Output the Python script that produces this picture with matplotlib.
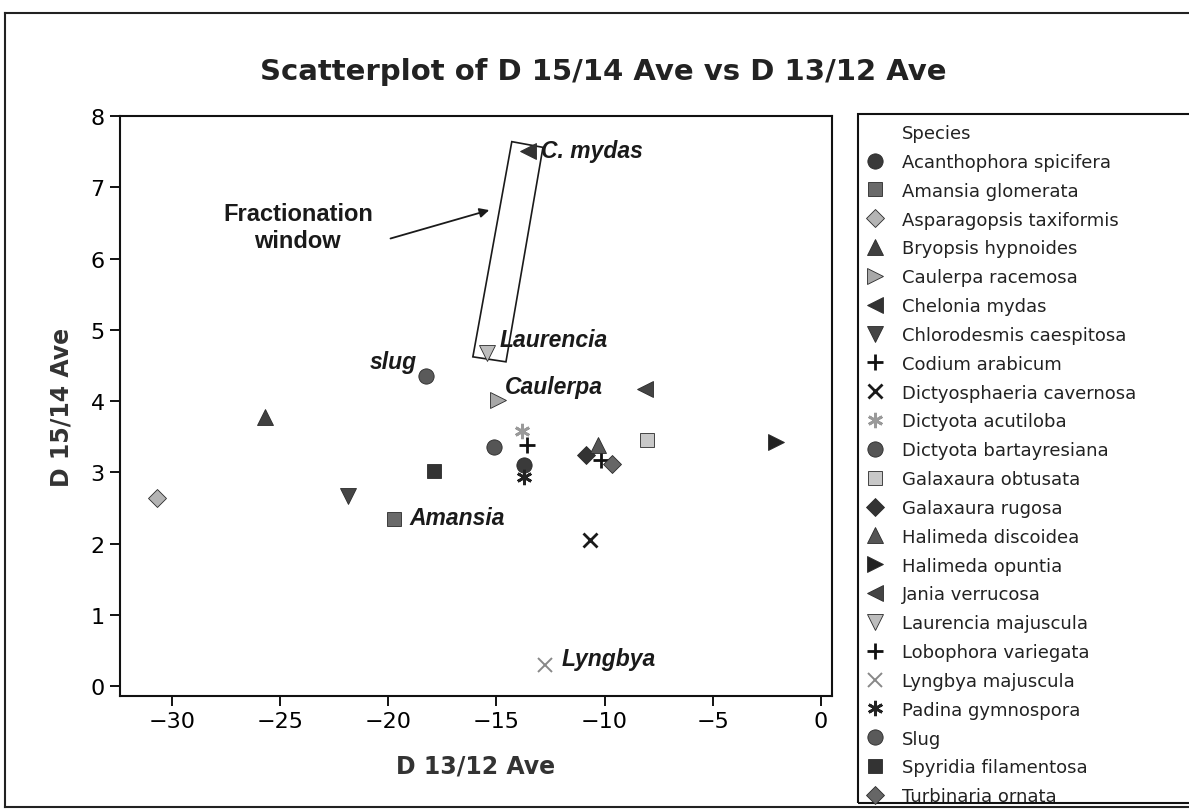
import matplotlib
matplotlib.use("Agg")
import matplotlib.pyplot as plt
from matplotlib.patches import Polygon, Rectangle
from matplotlib.lines import Line2D

species = ["Acanthophora spicifera", "Amansia glomerata", "Asparagopsis taxiformis",
           "Bryopsis hypnoides", "Caulerpa racemosa", "Chelonia mydas",
           "Chlorodesmis caespitosa", "Codium arabicum", "Dictyosphaeria cavernosa",
           "Dictyota acutiloba", "Dictyota bartayresiana", "Galaxaura obtusata",
           "Galaxaura rugosa", "Halimeda discoidea", "Halimeda opuntia",
           "Jania verrucosa", "Laurencia majuscula", "Lobophora variegata",
           "Lyngbya majuscula", "Padina gymnospora", "Slug", "Spyridia filamentosa",
           "Turbinaria ornata"]
d13 = [-13.73, -19.74, -30.70, -25.70, -14.93, -13.55, -21.87, -10.17, -10.68,
       -13.82, -15.12, -8.04, -10.86, -10.31, -2.08, -8.14, -15.44, -13.59,
       -12.76, -13.73, -18.26, -17.89, -9.66]
d15 = [3.10, 2.34, 2.64, 3.78, 4.01, 7.51, 2.67, 3.17, 2.05,
       3.58, 3.35, 3.45, 3.24, 3.38, 3.42, 4.17, 4.67, 3.38,
       0.29, 2.93, 4.35, 3.02, 3.12]

markers = ['o', 's', 'D', '^', '>', '<', 'v', '+', 'x', (6, 2, 0), 'o', 's',
           'D', '^', '>', '<', 'v', '+', 'x', (6, 2, 0), 'o', 's', 'D']
colors = ['#3a3a3a', '#6a6a6a', '#b4b4b4', '#404040', '#a8a8a8', '#333333',
          '#454545', '#111111', '#1a1a1a', '#9a9a9a', '#555555', '#c8c8c8',
          '#333333', '#555555', '#222222', '#444444', '#bdbdbd', '#111111',
          '#888888', '#222222', '#5a5a5a', '#333333', '#666666']
sizes = [11, 10, 9, 11, 11, 11, 11, 11, 10, 11, 11, 10, 9, 11, 11, 11, 11, 11, 10, 11, 11, 10, 9]

note_text = ["C. mydas", "Laurencia", "Caulerpa", "slug", "Amansia", "Lyngbya"]
note_x = [-12.94, -14.84, -14.61, -20.85, -19.0, -11.97]
note_y = [7.51, 4.87, 4.20, 4.55, 2.37, 0.38]

window_x = [-14.29, -12.85, -14.56, -16.09]
window_y = [7.64, 7.56, 4.55, 4.62]

fig = plt.figure(figsize=(11.89, 8.12), dpi=100)
ax = fig.add_axes([120/1189, 1-697/812, (832-120)/1189, (697-117)/812])

for i, sp in enumerate(species):
    m = markers[i]
    if m in ('+', 'x') or isinstance(m, tuple):
        lw = 1.4 if sp == "Lyngbya majuscula" else 2.0
        ax.plot(d13[i], d15[i], linestyle='none', marker=m, markersize=sizes[i],
                color=colors[i], markeredgewidth=lw, label=sp)
    else:
        ax.plot(d13[i], d15[i], linestyle='none', marker=m, markersize=sizes[i],
                markerfacecolor=colors[i], markeredgecolor='#2a2a2a',
                markeredgewidth=0.6, label=sp)

ax.set_xlim(-32.4, 0.51)
ax.set_ylim(-0.14, 8.0)
ax.set_xticks([-30, -25, -20, -15, -10, -5, 0])
ax.set_yticks(range(0, 9))
ax.tick_params(axis='both', direction='out', length=7, width=1.3, labelsize=16,
               top=False, right=False, pad=4)
for s in ax.spines.values():
    s.set_linewidth(1.5)
    s.set_color('#111111')

ax.set_xlabel("D 13/12 Ave", fontsize=17, fontweight='bold', color='#333333', labelpad=16)
ax.set_ylabel("D 15/14 Ave", fontsize=17, fontweight='bold', color='#333333', labelpad=12)
fig.text(603/1189, 1-72/812, "Scatterplot of D 15/14 Ave vs D 13/12 Ave",
         ha='center', va='center', fontsize=21, fontweight='bold', color='#222222')

for t, x, y in zip(note_text, note_x, note_y):
    ax.text(x, y, t, fontsize=16.5, fontweight='bold', fontstyle='italic',
            family='Liberation Sans', ha='left', va='center', color='#1a1a1a')

ax.text(-24.18, 6.44, "Fractionation\nwindow", fontsize=17, fontweight='bold',
        family='Liberation Sans', ha='center', va='center', color='#1a1a1a',
        linespacing=1.2)
ax.annotate("", xy=(-15.21, 6.69), xytext=(-20.02, 6.27),
            arrowprops=dict(arrowstyle='-|>', color='#1a1a1a', lw=1.3,
                            mutation_scale=14))
ax.add_patch(Polygon(list(zip(window_x, window_y)), closed=True, fill=False,
                     edgecolor='#1a1a1a', linewidth=1.2))

handles, labels = ax.get_legend_handles_labels()
title_handle = Line2D([], [], linestyle='none', marker='')
leg = fig.legend([title_handle] + handles, ["Species"] + labels,
                 loc='upper left', bbox_to_anchor=(858/1189, 1-117/812),
                 fontsize=13, frameon=False,
                 handletextpad=1.0, handlelength=1.0, labelspacing=0.6,
                 borderpad=0.45, borderaxespad=0, markerscale=1.0)
for txt in leg.get_texts():
    txt.set_color('#222222')

# legend box (runs past the right edge, as in the scan)
fig.add_artist(Rectangle((858/1189, 1-804/812), 400/1189, (804-115)/812,
                         transform=fig.transFigure, fill=False,
                         edgecolor='#111111', linewidth=1.5, clip_on=False))

# outer graph border
fig.add_artist(Line2D([5/1189, 1], [1-14/812, 1-14/812], transform=fig.transFigure,
                      color='#222222', lw=1.5))
fig.add_artist(Line2D([5/1189, 5/1189], [1-14/812, 1-808/812], transform=fig.transFigure,
                      color='#222222', lw=1.5))
fig.add_artist(Line2D([5/1189, 1], [1-808/812, 1-808/812], transform=fig.transFigure,
                      color='#222222', lw=1.5))

fig.savefig("out.png", dpi=100, facecolor='white')
